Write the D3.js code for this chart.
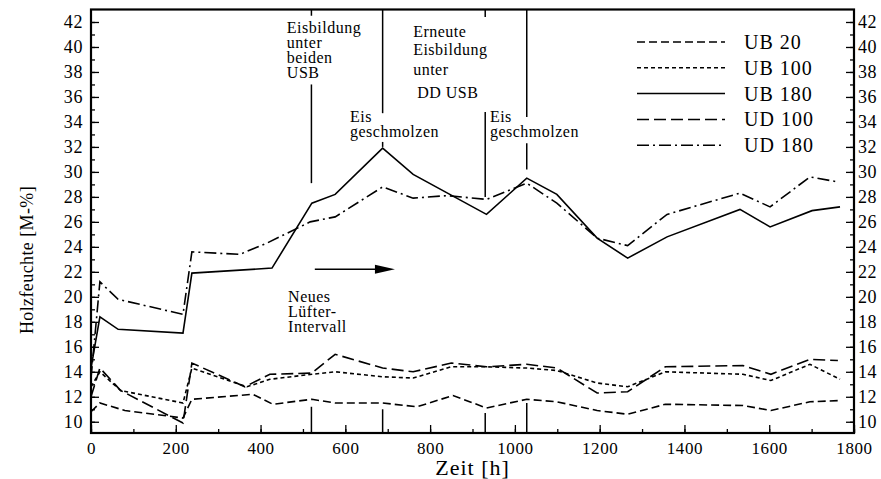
<!DOCTYPE html>
<html><head><meta charset="utf-8">
<script src="https://cdn.jsdelivr.net/npm/d3@7"></script>
<style>
body{margin:0;background:#fff;}
</style>
</head><body><svg id="c" width="881" height="479"></svg>
<script>
// ---- data ----
const ub20Hours   = [0,21,80,217,238,382,429,521,576,688,769,854,933,1028,1099,1194,1266,1355,1538,1604,1696,1767];
const ub20Values  = [10.8,11.5,10.9,10.3,11.8,12.2,11.4,11.8,11.5,11.5,11.2,12.1,11.1,11.8,11.6,10.9,10.6,11.4,11.3,10.9,11.6,11.7];
const ub100Hours  = [0,21,70,217,238,368,422,521,576,688,760,850,933,1028,1099,1194,1266,1355,1538,1604,1696,1767];
const ub100Values = [12.8,14.0,12.5,11.5,14.3,12.8,13.4,13.8,14.0,13.6,13.5,14.4,14.4,14.3,14.1,13.1,12.8,14.0,13.8,13.3,14.6,13.4];
const ub180Hours  = [0,21,64,217,238,427,521,576,688,760,933,1028,1099,1194,1266,1359,1531,1602,1701,1767];
const ub180Values = [14.3,18.4,17.4,17.1,21.9,22.3,27.5,28.2,31.9,29.8,26.6,29.5,28.2,24.7,23.1,24.8,27.0,25.6,26.9,27.2];
const ud100Hours  = [0,21,70,217,238,363,422,521,576,688,760,850,933,1028,1099,1194,1266,1355,1538,1604,1696,1762];
const ud100Values = [12.0,14.3,12.5,9.9,14.7,12.8,13.8,13.9,15.4,14.3,14.0,14.7,14.4,14.6,14.3,12.3,12.4,14.4,14.5,13.8,15.0,14.9];
const ud180Hours  = [0,21,64,217,238,351,415,517,576,688,760,840,933,1028,1099,1194,1266,1359,1531,1602,1696,1762];
const ud180Values = [13.5,21.2,19.8,18.6,23.6,23.4,24.3,26.0,26.4,28.8,27.9,28.1,27.8,29.1,27.5,24.7,24.1,26.6,28.3,27.2,29.6,29.2];

const seriesNames = ["UB 20","UB 100","UB 180","UD 100","UD 180"];
const xTicks = [0,200,400,600,800,1000,1200,1400,1600,1800];
const yTicks = [10,12,14,16,18,20,22,24,26,28,30,32,34,36,38,40,42];
const xLabel = "Zeit [h]";
const yLabel = "Holzfeuchte [M-%]";

// event markers: [hour, from value, to value]
const eventSegments = [
  [520,43,42.5],[520,37.0,29.1],[520,9.1,11.2],
  [688,43,34.7],[688,32.4,32.0],[688,9.1,11.0],
  [930,43,42.4],[930,34.8,28.0],[930,9.1,10.7],
  [1028,43,34.4],[1028,32.3,30.2],[1028,9.1,11.5]
];
const annotations = [
  {h:462, v:41.1, lines:["Eisbildung","unter","beiden","USB"], offs:[0,15,30,45], dx:[0,0,0,0]},
  {h:760, v:40.8, lines:["Erneute","Eisbildung","unter","DD USB"], offs:[0,18,38,61], dx:[0,0,0,4]},
  {h:611, v:34.0, lines:["Eis","geschmolzen"], offs:[0,15], dx:[0,0]},
  {h:941, v:34.0, lines:["Eis","geschmolzen"], offs:[0,15], dx:[0,0]},
  {h:465, v:19.6, lines:["Neues","Lüfter-","Intervall"], offs:[0,15,30], dx:[0,0,0]}
];
const arrowFrom = [528, 22.2], arrowTo = [717, 22.2];

// ---- drawing ----
const series = [
  {name:seriesNames[0], h:ub20Hours,  v:ub20Values,  dash:"8,4"},
  {name:seriesNames[1], h:ub100Hours, v:ub100Values, dash:"4,3"},
  {name:seriesNames[2], h:ub180Hours, v:ub180Values, dash:null},
  {name:seriesNames[3], h:ud100Hours, v:ud100Values, dash:"12,5"},
  {name:seriesNames[4], h:ud180Hours, v:ud180Values, dash:"12,4,2,4"}
];
const FONT = "'Liberation Serif'";

const svg = d3.select("#c");
svg.append("rect").attr("width",881).attr("height",479).attr("fill","#fff");

const x = d3.scaleLinear().domain([0,1800]).range([91,854]);
const y = d3.scaleLinear().domain([9.1,43]).range([433,9.5]);

// frame
svg.append("rect").attr("x",x(0)).attr("y",y(43)).attr("width",x(1800)-x(0)).attr("height",y(9.1)-y(43))
  .attr("fill","none").attr("stroke","#000").attr("stroke-width",2.2);

function styleAxis(g, fs){
  g.select(".domain").remove();
  g.selectAll(".tick line").attr("stroke","#000").attr("stroke-width",1.3);
  g.selectAll("text").style("font-family",FONT).style("font-size",fs+"px")
    .style("letter-spacing","0.6px").attr("fill","#000");
}
// minor ticks
const yMinor = d3.range(10,43,1);
const xMinor = d3.range(0,1801,100);
svg.append("g").attr("transform",`translate(${x(0)},0)`)
  .call(d3.axisLeft(y).tickValues(yMinor).tickSize(-4).tickFormat(""))
  .call(g=>styleAxis(g,18));
svg.append("g").attr("transform",`translate(${x(1800)},0)`)
  .call(d3.axisRight(y).tickValues(yMinor).tickSize(-4).tickFormat(""))
  .call(g=>styleAxis(g,18));
svg.append("g").attr("transform",`translate(0,${y(9.1)})`)
  .call(d3.axisBottom(x).tickValues(xMinor).tickSize(-4).tickFormat(""))
  .call(g=>styleAxis(g,17));
// major
svg.append("g").attr("transform",`translate(${x(0)},0)`)
  .call(d3.axisLeft(y).tickValues(yTicks).tickSize(-8).tickPadding(8).tickFormat(d3.format("d")))
  .call(g=>styleAxis(g,18));
svg.append("g").attr("transform",`translate(${x(1800)},0)`)
  .call(d3.axisRight(y).tickValues(yTicks).tickSize(-8).tickPadding(4).tickFormat(d3.format("d")))
  .call(g=>styleAxis(g,18));
svg.append("g").attr("transform",`translate(0,${y(9.1)})`)
  .call(d3.axisBottom(x).tickValues(xTicks).tickSize(-8).tickPadding(9).tickFormat(d3.format("d")))
  .call(g=>styleAxis(g,17));

// axis labels
svg.append("text").attr("x",(x(0)+x(1800))/2).attr("y",475).attr("text-anchor","middle")
  .style("font-family",FONT).style("font-size","22px").style("letter-spacing","1px").text(xLabel);
svg.append("text").attr("transform","translate(33,260) rotate(-90)").attr("text-anchor","middle")
  .style("font-family",FONT).style("font-size","18px").style("letter-spacing","0.4px").text(yLabel);

// event lines
svg.append("g").selectAll("line").data(eventSegments).join("line")
  .attr("x1",d=>x(d[0])).attr("x2",d=>x(d[0]))
  .attr("y1",d=>y(d[1])).attr("y2",d=>y(d[2]))
  .attr("stroke","#000").attr("stroke-width",1.5);

// series
const line = d3.line().x(d=>x(d[0])).y(d=>y(d[1]));
series.forEach(s=>{
  const pts = s.h.map((h,i)=>[h,s.v[i]]);
  svg.append("path").attr("d",line(pts)).attr("fill","none").attr("stroke","#000")
    .attr("stroke-width",1.6).attr("stroke-dasharray",s.dash);
});

// annotations (one text element per line)
annotations.forEach(a=>{
  a.lines.forEach((l,i)=>{
    svg.append("text").attr("x",x(a.h)+a.dx[i]).attr("y",y(a.v)+a.offs[i])
      .style("font-family",FONT).style("font-size","16px").style("letter-spacing","0.5px").text(l);
  });
});

// arrow
const ax0 = x(arrowFrom[0]), ax1 = x(arrowTo[0]), ay = y(arrowFrom[1]);
svg.append("line").attr("x1",ax0).attr("x2",ax1-18).attr("y1",ay).attr("y2",ay)
  .attr("stroke","#000").attr("stroke-width",1.5);
svg.append("path").attr("d",`M${ax1},${ay} L${ax1-20},${ay-4.5} L${ax1-20},${ay+4.5} Z`).attr("fill","#000");

// legend
const lg = svg.append("g");
series.forEach((s,i)=>{
  const ly = 42 + i*25.8;
  lg.append("line").attr("x1",637).attr("x2",725).attr("y1",ly).attr("y2",ly)
    .attr("stroke","#000").attr("stroke-width",1.5).attr("stroke-dasharray",s.dash);
  lg.append("text").attr("x",744).attr("y",ly+7).style("font-family",FONT).style("font-size","20px")
    .style("letter-spacing","1px").text(s.name);
});
</script>
</body></html>
